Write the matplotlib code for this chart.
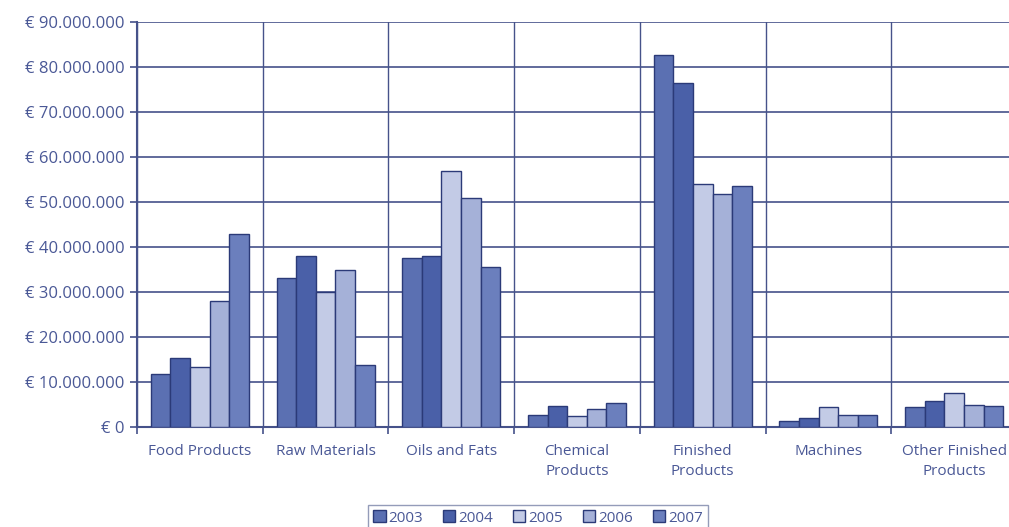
import matplotlib
matplotlib.use("Agg")
import matplotlib.pyplot as plt
import numpy as np
from matplotlib.ticker import FuncFormatter

categories = ["Food Products", "Raw Materials", "Oils and Fats", "Chemical\nProducts",
              "Finished\nProducts", "Machines", "Other Finished\nProducts"]
years = ["2003", "2004", "2005", "2006", "2007"]

v2003 = [11.8e6, 33.2e6, 37.5e6, 2.7e6, 82.7e6, 1.3e6, 4.4e6]
v2004 = [15.3e6, 38.0e6, 38.0e6, 4.7e6, 76.4e6, 2.0e6, 5.7e6]
v2005 = [13.4e6, 30.0e6, 57.0e6, 2.5e6, 54.0e6, 4.4e6, 7.5e6]
v2006 = [28.0e6, 35.0e6, 51.0e6, 4.0e6, 51.8e6, 2.7e6, 5.0e6]
v2007 = [43.0e6, 13.8e6, 35.5e6, 5.4e6, 53.6e6, 2.7e6, 4.6e6]
series = [v2003, v2004, v2005, v2006, v2007]

colors = ["#5b70b2", "#4a60a8", "#c3cbe6", "#a5b1d8", "#6b7fbd"]
edge = "#2b3a78"
text_color = "#4a5896"
grid_color = "#46528a"

plt.rcParams["font.family"] = ["Open Sans", "DejaVu Sans"]

fig = plt.figure(figsize=(10.09, 5.27), dpi=100)
ax = fig.add_axes([137 / 1009, 1 - 427 / 527, 880 / 1009, 405 / 527])

n = len(categories)
x = np.arange(n)
group_w = 0.78
bw = group_w / len(series)
for i, (vals, c, yr) in enumerate(zip(series, colors, years)):
    offs = -group_w / 2 + bw * (i + 0.5)
    ax.bar(x + offs, vals, width=bw, color=c, edgecolor=edge, linewidth=1.0,
           label=yr, zorder=3)

ax.set_xlim(-0.5, n - 0.5)
ax.set_ylim(0, 90e6)
ax.set_yticks(np.arange(0, 90e6 + 1, 10e6))


def euro(v, pos):
    if v == 0:
        return "€ 0"
    return "€ " + f"{int(v):,}".replace(",", ".")


ax.yaxis.set_major_formatter(FuncFormatter(euro))
ax.yaxis.grid(True, color=grid_color, linewidth=1.2, zorder=0)

# category separators
ax.set_xticks(np.arange(-0.5, n, 1.0))
ax.set_xticklabels([])
ax.xaxis.grid(True, color=grid_color, linewidth=1.0, zorder=0)
ax.set_xticks(x, minor=True)
ax.set_xticklabels(categories, minor=True, linespacing=1.5)
ax.tick_params(axis="x", which="minor", length=0, pad=12, labelsize=11,
               labelcolor=text_color)
ax.tick_params(axis="x", which="major", length=5, color=grid_color, width=1.2)
ax.tick_params(axis="y", length=5, color=grid_color, width=1.2, labelsize=12,
               labelcolor=text_color, pad=4)

for s in ["top", "right"]:
    ax.spines[s].set_visible(False)
for s in ["left", "bottom"]:
    ax.spines[s].set_color(grid_color)
    ax.spines[s].set_linewidth(1.5)

leg = fig.legend(loc="lower center", bbox_to_anchor=(538 / 1009, -0.022), ncol=5,
                 frameon=True, fancybox=False, fontsize=11, handlelength=0.8,
                 handleheight=0.8, handletextpad=0.2, columnspacing=1.3,
                 borderpad=0.35)
leg.get_frame().set_edgecolor("#7a84a8")
leg.get_frame().set_linewidth(1.0)
for t in leg.get_texts():
    t.set_color(text_color)

fig.savefig("out.png", dpi=100)
